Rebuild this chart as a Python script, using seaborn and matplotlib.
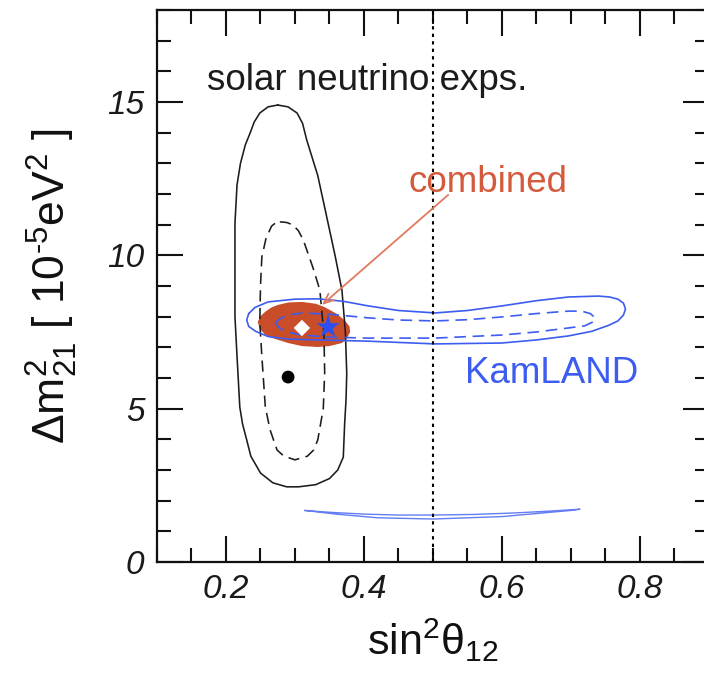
import matplotlib
matplotlib.use("Agg")
import matplotlib.pyplot as plt
from matplotlib.ticker import MultipleLocator
import seaborn as sns

# ---- allowed regions in the (sin^2 theta12, dm21^2) plane ----
solar_outer_x = [0.275, 0.290, 0.303, 0.311, 0.317, 0.333, 0.346, 0.358, 0.368, 0.373,
                 0.375, 0.374, 0.372, 0.370, 0.362, 0.350, 0.330, 0.305, 0.288, 0.268,
                 0.250, 0.236, 0.230, 0.224, 0.220, 0.216, 0.213, 0.213, 0.213, 0.216,
                 0.221, 0.228, 0.235, 0.241, 0.249, 0.261, 0.275]
solar_outer_y = [14.90, 14.84, 14.64, 14.30, 13.76, 12.60, 11.25, 10.00, 8.87, 7.50,
                 6.16, 5.30, 4.53, 3.42, 3.00, 2.72, 2.52, 2.45, 2.45, 2.58,
                 2.90, 3.45, 3.98, 4.50, 5.05, 6.70, 8.00, 8.87, 11.05, 12.30,
                 13.00, 13.60, 13.99, 14.35, 14.64, 14.84, 14.90]

solar_inner_x = [0.278, 0.288, 0.297, 0.305, 0.312, 0.326, 0.336, 0.342, 0.343, 0.341,
                 0.333, 0.327, 0.318, 0.300, 0.284, 0.274, 0.264, 0.257, 0.252, 0.249,
                 0.250, 0.252, 0.258, 0.266, 0.272, 0.278]
solar_inner_y = [11.09, 11.07, 10.99, 10.80, 10.50, 9.60, 8.87, 7.40, 6.16, 5.00,
                 3.98, 3.65, 3.45, 3.33, 3.45, 3.65, 4.30, 5.05, 6.70, 7.80,
                 9.00, 9.95, 10.55, 10.95, 11.06, 11.09]

kam_outer_x = [0.233, 0.242, 0.261, 0.300, 0.333, 0.370, 0.406, 0.450, 0.503, 0.550,
               0.600, 0.650, 0.696, 0.740, 0.756, 0.768, 0.776, 0.779, 0.776, 0.768,
               0.755, 0.730, 0.696, 0.650, 0.600, 0.503, 0.406, 0.333, 0.290, 0.261,
               0.243, 0.233, 0.230, 0.233]
kam_outer_y = [8.10, 8.30, 8.48, 8.57, 8.58, 8.50, 8.35, 8.20, 8.12, 8.20,
               8.35, 8.52, 8.64, 8.67, 8.64, 8.57, 8.44, 8.25, 8.05, 7.86,
               7.72, 7.52, 7.37, 7.24, 7.14, 7.11, 7.20, 7.24, 7.27, 7.35,
               7.52, 7.68, 7.89, 8.10]

kam_inner_x = [0.271, 0.280, 0.293, 0.310, 0.350, 0.406, 0.450, 0.503, 0.550, 0.600,
               0.650, 0.696, 0.715, 0.728, 0.735, 0.731, 0.720, 0.696, 0.650, 0.600,
               0.503, 0.406, 0.350, 0.310, 0.290, 0.278, 0.271]
kam_inner_y = [7.79, 7.96, 8.06, 8.12, 8.08, 7.96, 7.89, 7.86, 7.90, 7.99,
               8.10, 8.18, 8.18, 8.10, 7.96, 7.82, 7.70, 7.63, 7.50, 7.40,
               7.30, 7.30, 7.33, 7.40, 7.49, 7.62, 7.79]

kam_low_x = [0.314, 0.350, 0.400, 0.450, 0.500, 0.560, 0.620, 0.670, 0.713,
             0.700, 0.650, 0.600, 0.500, 0.420, 0.360, 0.314]
kam_low_y = [1.68, 1.62, 1.56, 1.53, 1.53, 1.55, 1.60, 1.66, 1.72,
             1.68, 1.58, 1.48, 1.40, 1.44, 1.56, 1.68]

combined_x = [0.246, 0.250, 0.258, 0.266, 0.275, 0.290, 0.310, 0.330, 0.343, 0.360,
              0.372, 0.379, 0.380, 0.375, 0.368, 0.350, 0.333, 0.310, 0.290, 0.270,
              0.257, 0.249, 0.246]
combined_y = [7.83, 8.02, 8.18, 8.30, 8.38, 8.46, 8.48, 8.42, 8.31, 8.10,
              7.88, 7.68, 7.50, 7.28, 7.14, 7.04, 7.01, 7.04, 7.14, 7.28,
              7.40, 7.60, 7.83]

# best-fit points
solar_best = ([0.290], [6.03])
combined_best = ([0.310], [7.63])
kam_best = ([0.348], [7.66])

maximal_mixing = 0.5

x_ticks = [0.2, 0.4, 0.6, 0.8]
x_tick_labels = ["0.2", "0.4", "0.6", "0.8"]
y_ticks = [0, 5, 10, 15]
y_tick_labels = ["0", "5", "10", "15"]

# ---- styling ----
sns.set_theme(style="ticks")
plt.rcParams.update({
    "font.family": ["Liberation Sans", "DejaVu Sans"],
    "mathtext.fontset": "custom",
    "mathtext.rm": "Liberation Sans",
    "mathtext.it": "Liberation Sans:italic",
    "mathtext.bf": "Liberation Sans:bold",
    "axes.linewidth": 1.6,
    "axes.edgecolor": "#111111",
    "figure.facecolor": "white",
    "axes.facecolor": "white",
})

BLACK = "#1c1c1c"
BLUE = "#3d5cf0"
RED = "#c94d29"
RED_TEXT = "#d45a3c"
RED_ARROW = "#e07a5f"

fig = plt.figure(figsize=(7.04, 6.87), dpi=100)
ax = fig.add_axes([0.2230, 0.1820, 0.7841, 0.8035])

# combined region
ax.fill(combined_x, combined_y, color=RED, lw=0, zorder=2)

# solar contours
sns.lineplot(x=solar_outer_x, y=solar_outer_y, sort=False, estimator=None,
             color=BLACK, lw=1.15, ax=ax, zorder=3)
sns.lineplot(x=solar_inner_x, y=solar_inner_y, sort=False, estimator=None,
             color=BLACK, lw=1.15, linestyle=(0, (7, 4)), ax=ax, zorder=3)

# KamLAND contours
sns.lineplot(x=kam_outer_x, y=kam_outer_y, sort=False, estimator=None,
             color=BLUE, lw=1.2, ax=ax, zorder=4)
sns.lineplot(x=kam_inner_x, y=kam_inner_y, sort=False, estimator=None,
             color=BLUE, lw=1.2, linestyle=(0, (7, 4)), ax=ax, zorder=4)
sns.lineplot(x=kam_low_x, y=kam_low_y, sort=False, estimator=None,
             color=BLUE, lw=1.0, alpha=0.8, ax=ax, zorder=4)

# best-fit markers
sns.scatterplot(x=solar_best[0], y=solar_best[1], marker="o", s=85,
                color="black", edgecolor="none", ax=ax, zorder=6)
sns.scatterplot(x=combined_best[0], y=combined_best[1], marker="D", s=70,
                color="white", edgecolor="none", ax=ax, zorder=6)
sns.scatterplot(x=kam_best[0], y=kam_best[1], marker="*", s=310,
                color="#2b4ff2", edgecolor="none", ax=ax, zorder=6)

# maximal mixing line
ax.axvline(maximal_mixing, color="black", lw=1.5, linestyle=(0, (1.6, 2.0)), zorder=5)

# labels on the plot
ax.text(0.172, 15.39, "solar neutrino exps.", fontsize=26.5, color=BLACK,
        ha="left", va="baseline", zorder=7)
ax.text(0.464, 12.06, "combined", fontsize=26.5, color=RED_TEXT,
        ha="left", va="baseline", zorder=7)
ax.text(0.546, 5.84, "KamLAND", fontsize=26.5, color=BLUE,
        ha="left", va="baseline", zorder=7)
ax.annotate("", xy=(0.339, 8.38), xytext=(0.522, 11.97),
            arrowprops=dict(arrowstyle="->,head_length=0.6,head_width=0.25",
                            color=RED_ARROW, lw=1.3, shrinkA=0, shrinkB=0),
            zorder=7)

# axes
ax.set_xlim(0.1, 0.9)
ax.set_ylim(0, 18)
ax.set_xticks(x_ticks, labels=x_tick_labels, fontstyle="italic", fontsize=24)
ax.set_yticks(y_ticks, labels=y_tick_labels, fontstyle="italic", fontsize=24)
ax.xaxis.set_minor_locator(MultipleLocator(0.05))
ax.yaxis.set_minor_locator(MultipleLocator(1))
ax.tick_params(which="both", direction="in", top=True, right=True,
               color="#111111", width=1.5)
ax.tick_params(which="major", length=19, pad=9)
ax.tick_params(which="minor", length=10)
for lbl in ax.get_xticklabels() + ax.get_yticklabels():
    lbl.set_color("#1a1a1a")

ax.set_xlabel(r"$\mathrm{sin}^2\mathrm{\theta}_{12}$", fontsize=31, color="#111111")
ax.set_ylabel(r"$\Delta\mathrm{m}^2_{21}\ [\ 10^{\mathrm{‐5}}\mathrm{eV}^2\ ]$",
              fontsize=32, color="#111111")
ax.xaxis.set_label_coords(0.5, -0.10)
ax.yaxis.set_label_coords(-0.140, 0.5)

fig.savefig("out.png", dpi=100)
